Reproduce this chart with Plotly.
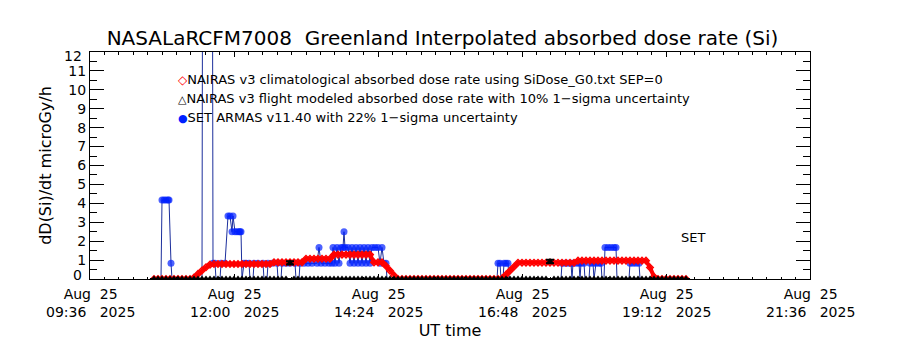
import pandas as pd
import plotly.graph_objects as go

DAY = "2025-08-25 "

# ---- NAIRAS model output on a 4-minute grid -------------------------------
nairas_times = pd.date_range(DAY + "10:40", DAY + "19:32", freq="4min")

# climatological absorbed dose rate (microGy/h)
clim_dose = ([0.0] * 10
             + [0.08, 0.27, 0.45, 0.62, 0.76]
             + [0.79] * 15
             + [0.88] * 8
             + [1.07] * 7
             + [1.29] * 10
             + [0.88] * 3
             + [0.69, 0.44, 0.19]
             + [0.0] * 26
             + [0.03, 0.23, 0.44, 0.65]
             + [0.86] * 15
             + [0.97] * 18
             + [0.61, 0.12]
             + [0.0] * 8)

# flight modeled absorbed dose rate (microGy/h)
flight_dose = [0.0] * 34 + [0.85] + [0.0] * 64 + [0.92] + [0.0] * 34
flight_sigma_frac = 0.10

# ---- SET ARMAS measurements -------------------------------------------------
armas_times = [
    "10:41", "10:47", "10:48", "10:50", "10:52", "10:54", "10:55", "10:57", "10:58",
    "11:28", "11:29", "11:38", "11:39", "11:41", "11:42", "11:46", "11:47", "11:51",
    "11:54", "11:56", "11:58", "11:59", "12:01", "12:03", "12:05", "12:06", "12:07",
    "12:08", "12:10", "12:12", "12:15", "12:16", "12:19", "12:20", "12:24", "12:29",
    "12:30", "12:33", "12:34", "12:38", "12:43", "12:44", "12:47", "12:48", "12:52",
    "12:56", "13:01", "13:02", "13:05", "13:06", "13:10", "13:14", "13:18", "13:23",
    "13:25", "13:27", "13:31", "13:35", "13:38", "13:39", "13:41", "13:43", "13:45",
    "13:47", "13:49", "13:50", "13:51", "13:54", "13:56", "13:58", "14:00", "14:02",
    "14:04", "14:06", "14:08", "14:10", "14:12", "14:14", "14:16", "14:18", "14:21",
    "14:24", "14:26", "14:28", "14:30", "14:32", "14:33",
    "16:23", "16:24", "16:26", "16:27", "16:29", "16:30", "16:32", "16:34", "16:35",
    "17:27", "17:28", "17:31", "17:34", "17:37", "17:38", "17:39", "17:42", "17:45",
    "17:46", "17:47", "17:50", "17:51", "17:55", "17:56", "17:59", "18:00", "18:02",
    "18:05", "18:07", "18:08", "18:10", "18:11", "18:14", "18:17", "18:20", "18:22",
    "18:23", "18:35", "18:36", "18:39", "18:42", "18:45", "18:46", "19:32",
]
armas_dose = [
    0, 0, 4.17, 4.17, 4.17, 4.17, 4.17, 0.83, 0,
    0, 30, 30, 0.83, 0.83, 0, 0, 0.83, 0.83,
    3.33, 3.33, 2.5, 3.33, 2.5, 2.5, 2.5, 2.5, 2.5,
    0, 0.83, 0.83, 0.83, 0, 0, 0.83, 0.83, 0.83,
    0, 0, 0.83, 0.83, 0.83, 0, 0, 0.83, 0.83,
    0.83, 0.83, 0, 0, 0.83, 0.83, 0.83, 0.83, 0.83,
    1.67, 0.83, 0.83, 0.83, 0.83, 1.67, 0.83, 1.67, 0.83,
    1.67, 1.67, 2.5, 1.67, 1.67, 0.83, 1.67, 0.83, 1.67,
    0.83, 1.67, 0.83, 1.67, 0.83, 1.67, 0.83, 1.67, 1.67,
    1.67, 0.83, 1.67, 0.83, 0.83, 0,
    0, 0.83, 0.83, 0, 0, 0.83, 0.83, 0.83, 0,
    0, 0.83, 0.83, 0.83, 0.83, 0, 0.83, 0.83, 0.83,
    0, 0.83, 0.83, 0, 0, 0.83, 0.83, 0, 0.83,
    0.83, 0.83, 0, 0, 1.67, 1.67, 1.67, 1.67, 1.67,
    0, 0, 0.83, 0.83, 0.83, 0.83, 0, 0,
]

# ---- labels -----------------------------------------------------------------
title_text = "NASALaRCFM7008  Greenland Interpolated absorbed dose rate (Si)"
series_names = [
    "NAIRAS v3 climatological absorbed dose rate using SiDose_G0.txt SEP=0",
    "NAIRAS v3 flight modeled absorbed dose rate with 10% 1\u2212sigma uncertainty",
    "SET ARMAS v11.40 with 22% 1\u2212sigma uncertainty",
]
xtick_times = ["09:36", "12:00", "14:24", "16:48", "19:12", "21:36"]
xtick_date = "Aug  25"
xtick_year = "2025"
y_ticks = list(range(0, 13))
x_title = "UT time"
y_title = "dD(Si)/dt microGy/h"
instrument_tag = "SET"

RED = "#ff0000"
BLUE_LINE = "#1c2f9c"
BLUE_MARK = "#0020ff"
FONT = "DejaVu Sans"

fig = go.Figure()

armas_x = [DAY + t for t in armas_times]
fig.add_trace(go.Scatter(
    x=armas_x, y=armas_dose, mode="lines+markers", name=series_names[2],
    line=dict(color=BLUE_LINE, width=1),
    marker=dict(symbol="circle", color=BLUE_MARK,
                size=[7 if v > 0 else 0 for v in armas_dose],
                line=dict(width=0)),
))

fig.add_trace(go.Scatter(
    x=nairas_times, y=clim_dose, mode="lines+markers", name=series_names[0],
    line=dict(color=RED, width=4),
    marker=dict(symbol="diamond-open", color=RED, size=5, line=dict(width=1.5, color=RED)),
))

fig.add_trace(go.Scatter(
    x=nairas_times, y=flight_dose, mode="markers", name=series_names[1],
    marker=dict(symbol="triangle-up", color="black", size=7),
    error_y=dict(type="data", array=[flight_sigma_frac * v for v in flight_dose],
                 color="black", thickness=2, width=4, visible=True),
))

annotations = []
# two-line date/time tick labels under the x axis
for t in xtick_times:
    annotations.append(dict(x=DAY + t, y=-0.022, xref="x", yref="paper",
                            text=f"{xtick_date}<br>{t}   {xtick_year}", showarrow=False,
                            xanchor="center", yanchor="top",
                            font=dict(size=14, family=FONT, color="black")))

# end labels of the y axis sit just inside the axis span
for v, y_pos in ((y_ticks[0], 0.21), (y_ticks[-1], 11.81)):
    annotations.append(dict(x=-0.008, y=y_pos, xref="paper", yref="y", text=str(v),
                            showarrow=False, xanchor="right", yanchor="middle",
                            font=dict(size=14, family=FONT, color="black")))

# in-plot key
key_symbols = [
    (f'<span style="color:{RED};font-size:12px">\u25c7</span>', 0.8767),
    ('<span style="color:black;font-size:11px">\u25b3</span>', 0.7930),
    (f'<span style="color:{BLUE_MARK};font-size:11px">\u25cf</span>', 0.7106),
]
for (sym, yk), name in zip(key_symbols, series_names):
    annotations.append(dict(x=0.1194, y=yk, xref="paper", yref="paper",
                            text=sym + name, showarrow=False, xanchor="left",
                            yanchor="middle", font=dict(size=13, family=FONT, color="black")))

annotations.append(dict(x=DAY + "19:39", y=2.22, xref="x", yref="y", text=instrument_tag,
                        showarrow=False, xanchor="center", yanchor="middle",
                        font=dict(size=13, family=FONT, color="black")))

fig.update_layout(
    width=900, height=350,
    margin=dict(l=90, r=90, t=52, b=71),
    paper_bgcolor="white", plot_bgcolor="white",
    font=dict(family=FONT, color="black"),
    showlegend=False,
    title=dict(text=title_text, x=0.4917, xanchor="center", y=1 - 38 / 350, yanchor="middle",
               font=dict(size=20, family=FONT, color="black")),
    annotations=annotations,
)

fig.update_xaxes(
    type="date", range=[DAY + xtick_times[0], DAY + xtick_times[-1]],
    tickvals=[DAY + t for t in xtick_times], showticklabels=False,
    ticks="inside", ticklen=5, tickwidth=1, tickcolor="black",
    minor=dict(dtick=14.4 * 60 * 1000, tick0=DAY + xtick_times[0], ticks="inside",
               ticklen=2.5, tickcolor="black", showgrid=False),
    showline=True, linecolor="black", linewidth=1, mirror="ticks",
    showgrid=False, zeroline=False,
    title=dict(text=x_title, standoff=45, font=dict(size=16, family=FONT, color="black")),
)

fig.update_yaxes(
    range=[0, 12], tickvals=y_ticks,
    ticktext=["" if v in (y_ticks[0], y_ticks[-1]) else str(v) for v in y_ticks],
    ticks="inside", ticklen=14, tickwidth=1, tickcolor="black",
    minor=dict(dtick=0.5, ticks="inside", ticklen=7, tickcolor="black", showgrid=False),
    showline=True, linecolor="black", linewidth=1, mirror="ticks",
    showgrid=False, zeroline=False,
    tickfont=dict(size=14, family=FONT, color="black"),
    title=dict(text=y_title, standoff=12, font=dict(size=16, family=FONT, color="black")),
)

fig.write_html("out.html")
